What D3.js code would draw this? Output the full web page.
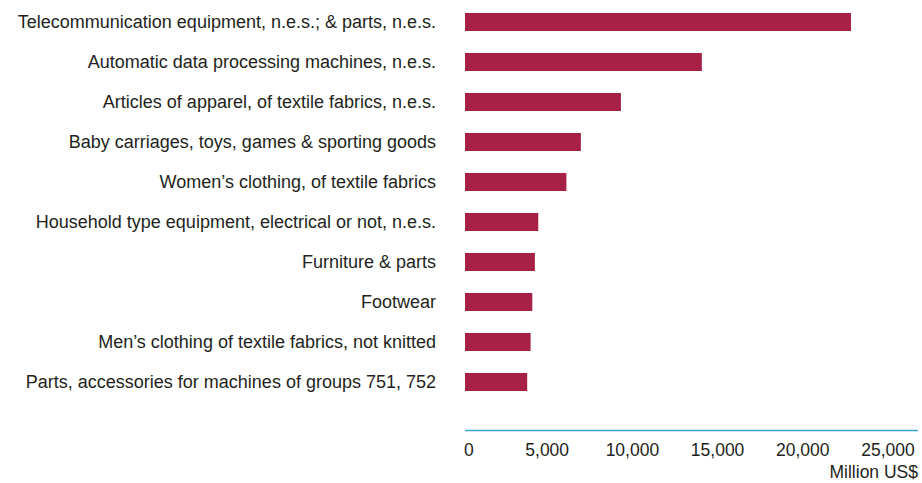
<!DOCTYPE html>
<html>
<head>
<script src="https://cdn.jsdelivr.net/npm/d3@7"></script>
<style>
  body { margin: 0; background: #fff; }
  text { font-family: "Liberation Sans", Arial, sans-serif; fill: #231f20; }
</style>
</head>
<body>
<script>
  var categories = [
    "Telecommunication equipment, n.e.s.; & parts, n.e.s.",
    "Automatic data processing machines, n.e.s.",
    "Articles of apparel, of textile fabrics, n.e.s.",
    "Baby carriages, toys, games & sporting goods",
    "Women\u2019s clothing, of textile fabrics",
    "Household type equipment, electrical or not, n.e.s.",
    "Furniture & parts",
    "Footwear",
    "Men\u2019s clothing of textile fabrics, not knitted",
    "Parts, accessories for machines of groups 751, 752"
  ]
  var values = [22650, 13900, 9150, 6800, 5950, 4300, 4100, 3950, 3850, 3650]
  var ticks = [0, 5000, 10000, 15000, 20000, 25000]

  var width = 922
  var height = 483

  var svg = d3.select("body")
              .append("svg")
              .attr("width", width)
              .attr("height", height)

  var x = d3.scaleLinear()
            .domain([0, 25000])
            .range([465, 891])

  var y = d3.scaleBand()
            .domain(categories)
            .range([2, 402])
            .paddingInner(0.55)
            .paddingOuter(0.275)

  // bars
  svg.selectAll("rect.bar")
     .data(values)
     .enter()
     .append("rect")
     .attr("class", "bar")
     .attr("x", x(0))
     .attr("y", function(d, i) { return y(categories[i]); })
     .attr("width", function(d) { return x(d) - x(0); })
     .attr("height", y.bandwidth())
     .attr("fill", "#a62145")

  // category labels
  svg.selectAll("text.cat")
     .data(categories)
     .enter()
     .append("text")
     .attr("class", "cat")
     .attr("x", 436)
     .attr("y", function(d) { return y(d) + y.bandwidth() / 2; })
     .attr("dy", "0.33em")
     .attr("text-anchor", "end")
     .style("font-size", "18px")
     .text(function(d) { return d; })

  // axis line
  svg.append("line")
     .attr("x1", x(0))
     .attr("x2", 918)
     .attr("y1", 430.5)
     .attr("y2", 430.5)
     .attr("stroke", "#3ba3cf")
     .attr("stroke-width", 1.5)

  var fmt = d3.format(",")
  svg.selectAll("text.tick")
     .data(ticks)
     .enter()
     .append("text")
     .attr("class", "tick")
     .attr("x", function(d) { return d === 0 ? x(0) - 1 : x(d) - 3; })
     .attr("y", 456)
     .attr("text-anchor", function(d) { return d === 0 ? "start" : "middle"; })
     .style("font-size", "17.5px")
     .text(function(d) { return fmt(d); })

  svg.append("text")
     .attr("x", 918)
     .attr("y", 478)
     .attr("text-anchor", "end")
     .style("font-size", "17.5px")
     .text("Million US$")
</script>
</body>
</html>
